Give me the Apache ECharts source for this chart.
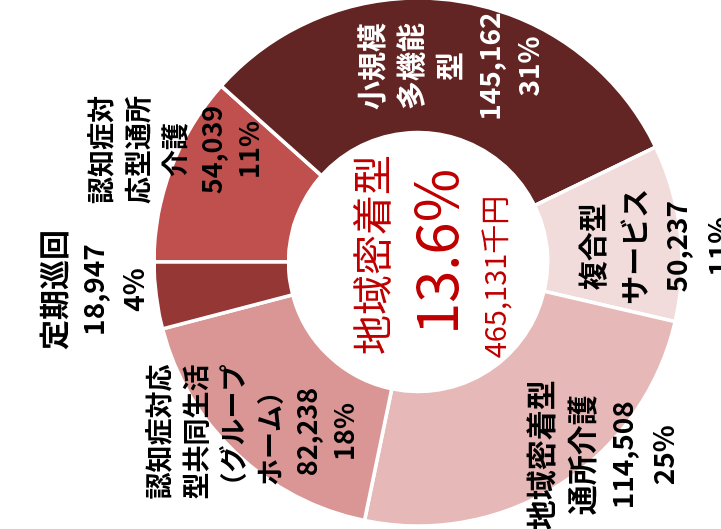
<!DOCTYPE html>
<html><head><meta charset="utf-8">
<script src="https://cdn.jsdelivr.net/npm/echarts@6/dist/echarts.min.js"></script>
<style>
html,body{margin:0;padding:0;width:721px;height:529px;overflow:hidden;background:#fff}
#chart{position:absolute;left:96px;top:-96px;width:529px;height:721px;transform:rotate(-90deg);transform-origin:50% 50%}
</style></head><body><div id="chart"></div>
<script>
// ---- data ----
const categories = ['認知症対\n応型通所\n介護', '小規模\n多機能\n型', '複合型\nサービス', '地域密着型\n通所介護', '認知症対応\n型共同生活\n（グループ\nホーム）', '定期巡回'];
const values = [54039, 145162, 50237, 114508, 82238, 18947];
const percentLabels = ['11%', '31%', '11%', '25%', '18%', '4%'];
const centerTitle = '地域密着型';
const centerShare = '13.6%';
const centerUnit = '千円';

// ---- style ----
const colors = ['#C0504D', '#632523', '#F2DCDB', '#E6B9B8', '#D99694', '#953735'];
const labelColors = ['#000', '#fff', '#000', '#000', '#000', '#000'];
const nameSizes = [27, 29, 29, 30, 27, 30];
const numSizes = [27, 28, 28, 28, 27, 28];
const lineHeights = [37, 39, 42, 41, 37, 40];
const labelR = [268, 198, 238, 267, 238, 326];
const labelDA = [3.8, 1.3, 2.7, -11, 0.9, 2.4];
const CX = 267, CY = 418, R0 = 129.5, R1 = 264;
const FONT = '"Noto Sans CJK JP", "Noto Sans", sans-serif';

const total = values.reduce((a, b) => a + b, 0);
const mids = [];
let acc = 0;
values.forEach(v => { mids.push((acc + v / 2) / total * 360); acc += v; });

const data = values.map((v, i) => ({
  name: categories[i],
  value: v,
  itemStyle: { color: colors[i] },
  label: {
    color: labelColors[i],
    rich: {
      n: { fontSize: nameSizes[i], lineHeight: lineHeights[i], fontWeight: 'bold', fontFamily: FONT, color: labelColors[i], align: 'center' },
      v: { fontSize: numSizes[i], lineHeight: lineHeights[i], fontWeight: 'bold', fontFamily: FONT, color: labelColors[i], align: 'center' }
    }
  }
}));

const chart = echarts.init(document.getElementById('chart'), null, { renderer: 'canvas' });
chart.setOption({
  animation: false,
  backgroundColor: '#fff',
  series: [{
    type: 'pie',
    center: [CX, CY],
    radius: [R0, R1],
    startAngle: 90,
    clockwise: true,
    avoidLabelOverlap: false,
    itemStyle: { borderColor: '#fff', borderWidth: 3.5 },
    labelLine: { show: false },
    label: {
      show: true,
      position: 'inside',
      formatter: p => p.name.split('\n').map(s => '{n|' + s + '}').join('\n') +
        '\n{v|' + p.value.toLocaleString('en-US') + '}\n{v|' + percentLabels[p.dataIndex] + '}'
    },
    labelLayout: params => {
      const i = params.dataIndex;
      const a = (mids[i] + labelDA[i]) * Math.PI / 180;
      return {
        x: CX + labelR[i] * Math.sin(a),
        y: CY - labelR[i] * Math.cos(a),
        align: 'center',
        verticalAlign: 'middle'
      };
    },
    data: data
  }],
  graphic: [
    { type: 'text', style: { text: centerTitle, x: 274, y: 372, fill: '#C00000', font: '40px ' + FONT, textAlign: 'center', textVerticalAlign: 'middle', align: 'center', verticalAlign: 'middle' } },
    { type: 'text', style: { text: centerShare, x: 277, y: 436, fill: '#C00000', font: '58px ' + FONT, textAlign: 'center', textVerticalAlign: 'middle', align: 'center', verticalAlign: 'middle' } },
    { type: 'text', style: { text: total.toLocaleString('en-US') + centerUnit, x: 252, y: 495, fill: '#C00000', font: '29px ' + FONT, textAlign: 'center', textVerticalAlign: 'middle', align: 'center', verticalAlign: 'middle' } }
  ]
});
</script></body></html>
